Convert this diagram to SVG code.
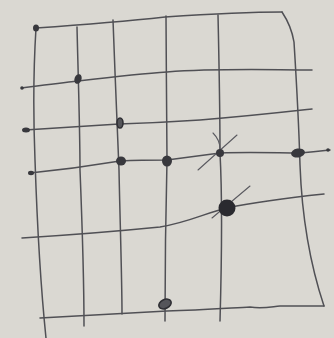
<svg xmlns="http://www.w3.org/2000/svg" width="334" height="338" viewBox="0 0 334 338">
  <style>
    .ln { fill: none; stroke: #505055; stroke-width: 1.5; stroke-linecap: round; stroke-linejoin: round; }
    .fine { fill: none; stroke: #5a5a60; stroke-width: 1.1; stroke-linecap: round; }
    .dot { fill: #38383d; }
    .ring { fill: #55555a; stroke: #2f2f34; stroke-width: 1.6; }
  </style>
  <rect width="334" height="338" fill="#dad8d2"/>
  <g id="connectors">
    <!-- horizontal lines -->
    <path class="ln" d="M36,28 C80,25 120,22 165,17 C210,14 250,12 282,12"/>
    <path class="ln" d="M22,88 C45,85 60,83 78,81 C120,76 150,73 167,72 C220,68 270,70 312,70"/>
    <path class="ln" d="M25,130 C60,128 90,126 119,124 C150,123 170,122 200,120 C250,116 285,112 312,109"/>
    <path class="ln" d="M30,173 C60,170 90,166 120,161 C140,160 150,160 167,160 C190,157 205,155 220,153 C250,152 280,153 300,153 C315,152 322,151 330,150"/>
    <path class="ln" d="M22,238 C70,235 120,231 160,227 C190,222 205,213 227,208 C260,201 295,197 324,194"/>
    <path class="ln" d="M40,318 C90,315 130,313 167,311 C200,310 230,308 250,307 C262,309 270,307 280,306 C300,306 315,306 324,306"/>
    <!-- vertical lines -->
    <path class="ln" d="M36,28 C34,60 33,110 35,160 C37,220 40,280 46,338"/>
    <path class="ln" d="M77,27 C78,70 80,130 80,170 C82,220 84,280 84,326"/>
    <path class="ln" d="M113,20 C115,70 117,130 119,170 C120,220 122,280 122,314"/>
    <path class="ln" d="M166,16 C166,60 167,120 167,160 C166,200 165,260 165,321"/>
    <path class="ln" d="M218,15 C219,60 220,120 220,153 C222,190 222,250 220,321"/>
    <path class="ln" d="M282,12 C286,18 292,30 294,42 C297,90 299,130 300,165 C302,220 312,270 324,306"/>
    <!-- extra pen strokes -->
    <path class="fine" d="M198,170 L237,135"/>
    <path class="fine" d="M213,133 C218,138 220,143 220,149"/>
    <path class="fine" d="M212,218 L250,186"/>
  </g>
  <g id="dot-top-left"><ellipse class="dot" cx="36" cy="28" rx="3" ry="3.5"/></g>
  <g id="dot-h2-start"><circle class="dot" cx="22" cy="88" r="1.8"/></g>
  <g id="dot-h2-v2"><ellipse class="dot" cx="78" cy="79" rx="3.5" ry="5" transform="rotate(20 78 79)"/></g>
  <g id="dot-h3-start"><ellipse class="dot" cx="26" cy="130" rx="4" ry="2.5"/></g>
  <g id="dot-h3-v3"><ellipse class="ring" cx="120" cy="123" rx="3" ry="5"/></g>
  <g id="dot-h4-start"><ellipse class="dot" cx="31" cy="173" rx="3" ry="2.2"/></g>
  <g id="dot-h4-v3"><ellipse class="dot" cx="121" cy="161" rx="5" ry="4.5"/></g>
  <g id="dot-h4-v4"><ellipse class="dot" cx="167" cy="161" rx="5" ry="5.5"/></g>
  <g id="dot-h4-v5"><circle class="dot" cx="220" cy="153" r="4"/></g>
  <g id="dot-h4-v6"><ellipse class="dot" cx="298" cy="153" rx="7" ry="4.5" transform="rotate(-10 298 153)"/></g>
  <g id="dot-h4-end"><circle class="dot" cx="328" cy="150" r="1.8"/></g>
  <g id="dot-h5-v5"><circle fill="#2a2a2f" cx="227" cy="208" r="8.5"/></g>
  <g id="dot-bottom"><ellipse class="ring" cx="165" cy="304" rx="6.5" ry="4.5" transform="rotate(-25 165 304)"/></g>
</svg>
